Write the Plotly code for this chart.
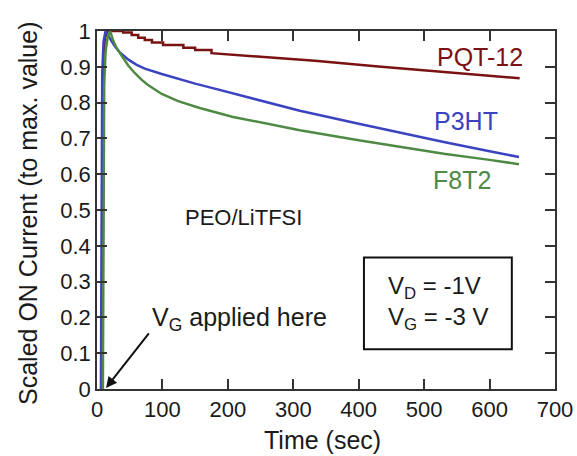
import plotly.graph_objects as go

# ---- data ----
pqt_t = [8, 9, 10, 12, 16, 40, 40, 53, 53, 63, 63, 73, 73, 84, 84, 101, 101, 132, 132,
         150, 150, 175, 175, 250, 333, 430, 532, 646]
pqt_v = [0, 0.5, 0.93, 0.98, 1.0, 1.0, 0.996, 0.996, 0.989, 0.989, 0.981, 0.981, 0.975,
         0.975, 0.968, 0.968, 0.961, 0.961, 0.953, 0.953, 0.947, 0.947, 0.938, 0.928,
         0.917, 0.901, 0.886, 0.868]

p3ht_t = [6, 7, 8, 10, 13, 16, 20, 27, 35, 48, 60, 73, 99, 124, 150, 180, 208, 250,
          310, 400, 463, 530, 600, 645]
p3ht_v = [0, 0.7, 0.88, 0.97, 1.0, 0.99, 0.978, 0.958, 0.940, 0.920, 0.906, 0.895,
          0.880, 0.866, 0.853, 0.839, 0.826, 0.806, 0.777, 0.741, 0.716, 0.690, 0.664,
          0.648]

f8t2_t = [9, 10, 11, 13, 16, 20, 25, 30, 38, 48, 58, 68, 78, 99, 124, 157, 208, 275,
          310, 400, 463, 530, 600, 645]
f8t2_v = [0, 0.5, 0.85, 0.94, 0.98, 1.0, 0.972, 0.952, 0.930, 0.903, 0.882, 0.864,
          0.849, 0.824, 0.804, 0.785, 0.760, 0.735, 0.723, 0.695, 0.676, 0.657, 0.640,
          0.628]

x_ticks = [0, 100, 200, 300, 400, 500, 600, 700]
y_ticks = [0, 0.1, 0.2, 0.3, 0.4, 0.5, 0.6, 0.7, 0.8, 0.9, 1]
y_tick_labels = ["0", "0.1", "0.2", "0.3", "0.4", "0.5", "0.6", "0.7", "0.8", "0.9", "1"]

RED = "#7a1212"
BLUE = "#3b43c0"
GREEN = "#4f8a45"
FONT = "Liberation Sans, Arial, sans-serif"

fig = go.Figure()
fig.add_trace(go.Scatter(x=pqt_t, y=pqt_v, mode="lines", line=dict(color=RED, width=2.5),
                         name="PQT-12"))
fig.add_trace(go.Scatter(x=p3ht_t, y=p3ht_v, mode="lines", line=dict(color=BLUE, width=2.5),
                         name="P3HT"))
fig.add_trace(go.Scatter(x=f8t2_t, y=f8t2_v, mode="lines", line=dict(color=GREEN, width=2.5),
                         name="F8T2"))

axis_common = dict(showgrid=False, zeroline=False, showline=True, linecolor="#333333",
                   linewidth=1.5, ticks="inside", ticklen=10, tickwidth=1.5,
                   tickcolor="#333333", mirror="allticks", automargin=False,
                   tickfont=dict(family=FONT, size=22, color="#1a1a1a"))

fig.update_layout(
    width=577, height=456,
    margin=dict(l=97, r=22, t=31, b=67),
    paper_bgcolor="white", plot_bgcolor="white",
    showlegend=False,
    font=dict(family=FONT, color="#1a1a1a"),
    xaxis=dict(range=[0, 700], tickvals=x_ticks, **axis_common),
    yaxis=dict(range=[0, 1], tickvals=y_ticks, ticktext=y_tick_labels, **axis_common),
)

ann = []
ann.append(dict(text="Time (sec)", xref="paper", yref="paper", x=0.4934, y=-0.1425,
                xanchor="center", yanchor="middle", showarrow=False,
                font=dict(size=25, family=FONT, color="#1a1a1a")))
ann.append(dict(text="Scaled ON Current (to max. value)", xref="paper", yref="paper",
                x=-0.1507, y=0.4916, xanchor="center", yanchor="middle", textangle=-90,
                showarrow=False, font=dict(size=25, family=FONT, color="#1a1a1a")))
ann.append(dict(text="PQT-12", x=585, y=0.928, xanchor="center", yanchor="middle",
                showarrow=False, font=dict(size=25, family=FONT, color=RED)))
ann.append(dict(text="P3HT", x=564, y=0.748, xanchor="center", yanchor="middle",
                showarrow=False, font=dict(size=25, family=FONT, color=BLUE)))
ann.append(dict(text="F8T2", x=558, y=0.585, xanchor="center", yanchor="middle",
                showarrow=False, font=dict(size=25, family=FONT, color=GREEN)))
ann.append(dict(text="PEO/LiTFSI", x=224, y=0.478, xanchor="center", yanchor="middle",
                showarrow=False, font=dict(size=22, family=FONT, color="#1a1a1a")))
ann.append(dict(text="V<sub>G</sub> applied here", x=218, y=0.195, xanchor="center",
                yanchor="middle", showarrow=False,
                font=dict(size=25, family=FONT, color="#1a1a1a")))
ann.append(dict(text="", x=13.8, y=0.003, ax=44, ay=-56, showarrow=True, arrowhead=2,
                arrowsize=1.1, arrowwidth=2, arrowcolor="#111111"))
ann.append(dict(text="V<sub>D</sub> = -1V<br>V<sub>G</sub> = -3 V", x=521, y=0.24,
                xanchor="center", yanchor="middle", align="left", showarrow=False,
                font=dict(size=24, family=FONT, color="#1a1a1a")))
fig.update_layout(annotations=ann)

fig.add_shape(type="rect", x0=408, x1=634, y0=0.111, y1=0.367,
              line=dict(color="#111111", width=2), fillcolor="rgba(0,0,0,0)")

fig.write_html("out.html")
